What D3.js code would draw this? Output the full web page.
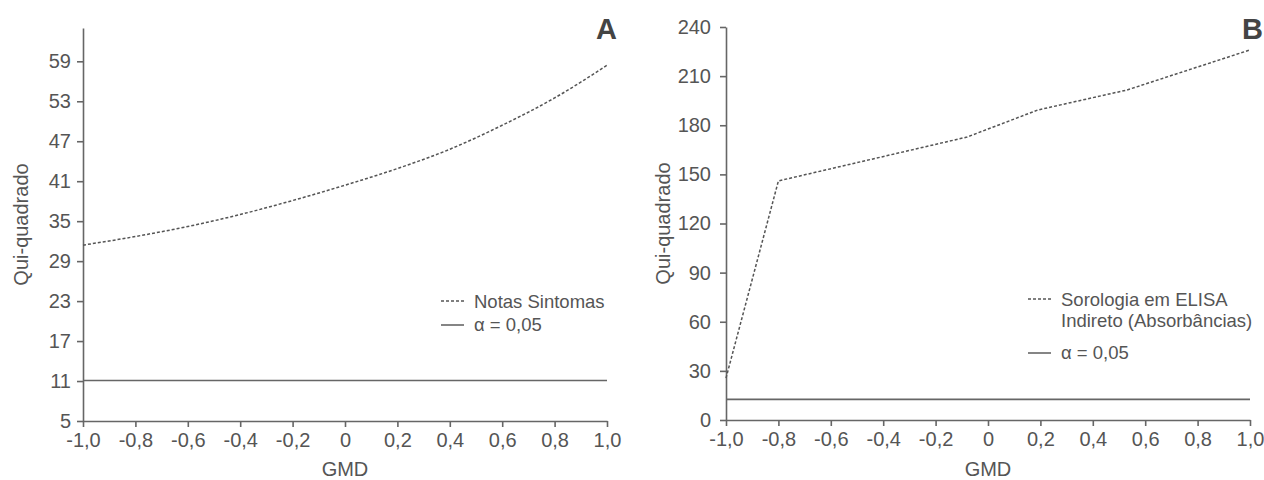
<!doctype html>
<html lang="pt">
<head>
<meta charset="UTF-8">
<title>Qui-quadrado x GMD</title>
<script src="https://d3js.org/d3.v7.min.js"></script>
<style>
body { margin: 0; background-color: #ffffff; font-family: "Liberation Sans", Arial, sans-serif; }
svg { display: block; }
.axis path, .axis line { stroke: #666; stroke-width: 1.6; }
.axis text { font-family: "Liberation Sans", Arial, sans-serif; font-size: 20px; fill: #555; }
.lbl { font-size: 20px; fill: #555; }
.leg { font-size: 18.5px; fill: #555; }
.serie { fill: none; stroke: #555; stroke-width: 1.5; stroke-dasharray: 3,2; }
.alpha { fill: none; stroke: #666; stroke-width: 1.6; }
.tag { font-size: 29px; font-weight: bold; fill: #444; }
</style>
</head>
<body>
<div id="plot"></div>
<script>

// Painel A - Notas Sintomas
var gmdA = [-1.0, -0.8, -0.6, -0.4, -0.2, 0, 0.2, 0.4, 0.6, 0.8, 1.0];
var chiA = [31.4, 32.7, 34.2, 36.0, 38.1, 40.4, 42.9, 45.8, 49.4, 53.5, 58.4];
var alphaA = 11.07;
var yTicksA = [5, 11, 17, 23, 29, 35, 41, 47, 53, 59];

// Painel B - Sorologia em ELISA
var gmdB = [-1.0, -0.8, -0.08, 0.19, 0.53, 1.0];
var chiB = [25.6, 146, 172.8, 189.3, 201.5, 226];
var alphaB = 12.59;
var yTicksB = [0, 30, 60, 90, 120, 150, 180, 210, 240];

var xTicks = [-1.0, -0.8, -0.6, -0.4, -0.2, 0, 0.2, 0.4, 0.6, 0.8, 1.0];

var width = 1264, height = 480;

var svg = d3.select("#plot").append("svg")
	.attr("width", width)
	.attr("height", height);

function fmtX(d) {
	if (d === 0) return "0";
	return d3.format(".1f")(d).replace("\u2212", "-").replace(".", ",");
}

function drawPanel(p) {
	var x = d3.scaleLinear().domain([-1, 1]).range([p.left, p.right]);
	var y = d3.scaleLinear().domain(p.yDomain).range([p.bottom, p.top]);

	svg.append("g")
		.attr("class", "axis")
		.attr("transform", "translate(0," + p.bottom + ")")
		.call(d3.axisBottom(x).tickValues(xTicks).tickFormat(fmtX).tickSize(6).tickSizeOuter(0).tickPadding(6));

	svg.append("g")
		.attr("class", "axis")
		.attr("transform", "translate(" + p.left + ",0)")
		.call(d3.axisLeft(y).tickValues(p.yTicks).tickSize(6).tickSizeOuter(0).tickPadding(p.yPad));

	// linha alfa
	svg.append("path")
		.attr("class", "alpha")
		.attr("d", d3.line()([[x(-1), y(p.alpha)], [x(1), y(p.alpha)]]));

	var pts = p.gmd.map(function (g, i) { return [g, p.chi[i]]; });
	svg.append("path")
		.datum(pts)
		.attr("class", "serie")
		.attr("d", d3.line()
			.curve(p.curve)
			.x(function (d) { return x(d[0]); })
			.y(function (d) { return y(d[1]); }));

	svg.append("text")
		.attr("class", "lbl")
		.attr("text-anchor", "middle")
		.attr("transform", "translate(" + p.yLabelX + "," + ((p.top + p.bottom) / 2) + ") rotate(-90)")
		.text("Qui-quadrado");

	svg.append("text")
		.attr("class", "lbl")
		.attr("x", x(0))
		.attr("y", 476)
		.attr("text-anchor", "middle")
		.text("GMD");

	svg.append("text")
		.attr("class", "tag")
		.attr("x", p.tagX)
		.attr("y", 39)
		.text(p.tag);

	// legenda
	var lx = p.legX;
	svg.append("line").attr("class", "serie")
		.attr("x1", lx).attr("x2", lx + 23).attr("y1", p.legY[0]).attr("y2", p.legY[0]);
	p.legText.forEach(function (t, i) {
		svg.append("text").attr("class", "leg")
			.attr("x", lx + 33).attr("y", p.legY[0] + 7 + i * 21)
			.text(t);
	});
	svg.append("line").attr("class", "alpha")
		.attr("x1", lx).attr("x2", lx + 23).attr("y1", p.legY[1]).attr("y2", p.legY[1]);
	svg.append("text").attr("class", "leg")
		.attr("x", lx + 33).attr("y", p.legY[1] + 6)
		.text("\u03b1 = 0,05");
}

drawPanel({
	left: 83, right: 607, top: 28, bottom: 421,
	yDomain: [5, 64], yTicks: yTicksA, yPad: 6,
	gmd: gmdA, chi: chiA, alpha: alphaA, curve: d3.curveMonotoneX,
	yLabelX: 28, tag: "A", tagX: 596,
	legX: 441, legY: [301, 325], legText: ["Notas Sintomas"]
});

drawPanel({
	left: 726, right: 1250, top: 27, bottom: 420,
	yDomain: [0, 240], yTicks: yTicksB, yPad: 9,
	gmd: gmdB, chi: chiB, alpha: alphaB, curve: d3.curveLinear,
	yLabelX: 670, tag: "B", tagX: 1242,
	legX: 1028, legY: [299, 353], legText: ["Sorologia em ELISA", "Indireto (Absorb\u00e2ncias)"]
});

</script>
</body>
</html>
